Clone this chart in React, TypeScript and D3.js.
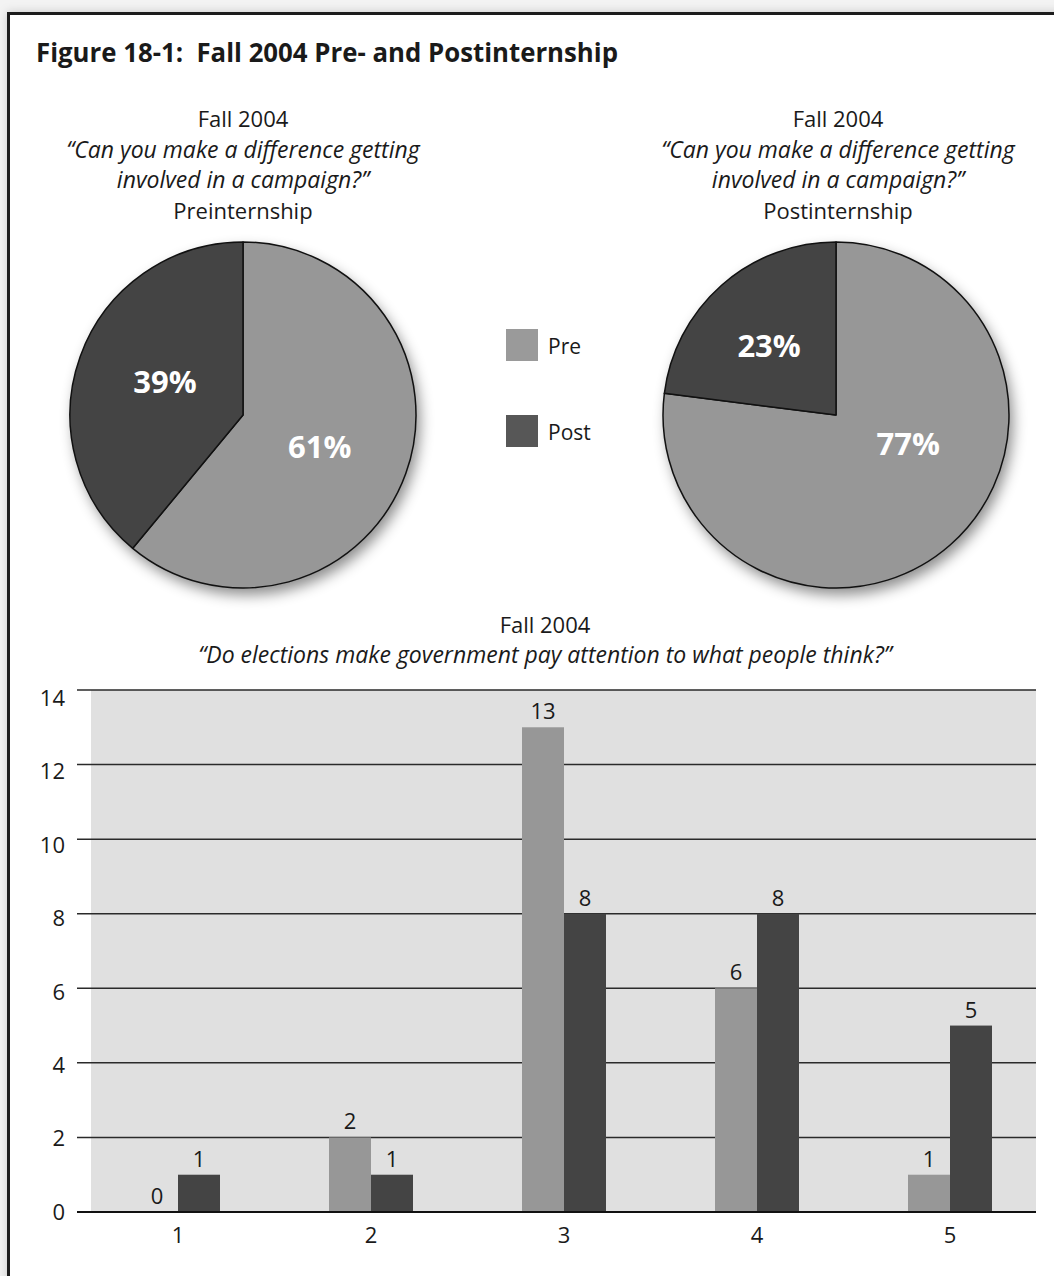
import React from "react";
import * as d3 from "d3";

// ---------- data ----------
const figureTitle = "Figure 18-1:  Fall 2004 Pre- and Postinternship";
const seriesNames = ["Pre", "Post"];
const pieQuestion = ["Fall 2004", "\u201CCan you make a difference getting", "involved in a campaign?\u201D"];
const pieSubtitles = ["Preinternship", "Postinternship"];
const preInternship = [61, 39]; // Pre, Post
const postInternship = [77, 23]; // Pre, Post

const barTitle = ["Fall 2004", "\u201CDo elections make government pay attention to what people think?\u201D"];
const categories = ["1", "2", "3", "4", "5"];
const preValues = [0, 2, 13, 6, 1];
const postValues = [1, 1, 8, 8, 5];
const yTicks = [0, 2, 4, 6, 8, 10, 12, 14];

// ---------- layout / style ----------
const W = 1054;
const H = 1276;
const FONT = "'Open Sans', 'Noto Sans', sans-serif";
const COLORS: Record<string, string> = { Pre: "#979797", Post: "#444444" };
const LEGEND_COLORS: Record<string, string> = { Pre: "#9a9a9a", Post: "#575757" };
const PIE_R = 173;
const pies = [
  { cx: 243, cy: 415, values: preInternship, subtitle: pieSubtitles[0], titleX: 243,
    labels: [ { a: 112.6, f: 0.48 }, { a: 293, f: 0.49 } ] },
  { cx: 836, cy: 415, values: postInternship, subtitle: pieSubtitles[1], titleX: 838,
    labels: [ { a: 111.9, f: 0.45 }, { a: 315.8, f: 0.555 } ] },
];
const plot = { left: 91, right: 1036, top: 690, bottom: 1212, gridStart: 77 };

export default function App() {
  const pieGen = d3.pie<number>().sort(null).startAngle(0).endAngle(2 * Math.PI);
  const arcGen = d3.arc<d3.PieArcDatum<number>>().innerRadius(0).outerRadius(PIE_R);

  const x = d3.scaleBand<string>().domain(categories).range([81.5, 1046.5]).padding(0);
  const xs = d3.scaleBand<string>().domain(seriesNames).range([-42, 42]).padding(0);
  const y = d3.scaleLinear().domain([0, 14]).range([plot.bottom, plot.top]);
  const yLab = d3.scaleLinear().domain([0, 14]).range([plot.bottom, 698]);

  const series = [
    { name: "Pre", values: preValues },
    { name: "Post", values: postValues },
  ];

  return (
    <svg
      width={W}
      height={H}
      viewBox={`0 0 ${W} ${H}`}
      style={{ position: "absolute", left: 0, top: 0, background: "#ffffff" }}
      fontFamily={FONT}
    >
      <defs>
        <filter id="frameShadow" x="-5%" y="-5%" width="110%" height="110%">
          <feDropShadow dx="0" dy="0" stdDeviation="5" floodColor="#000" floodOpacity="0.18" />
        </filter>
        <filter id="pieShadow" x="-20%" y="-20%" width="140%" height="140%">
          <feDropShadow dx="4" dy="7" stdDeviation="7" floodColor="#000" floodOpacity="0.45" />
        </filter>
      </defs>

      {/* frame */}
      <rect x={0} y={0} width={W} height={H} fill="#f3f3f3" />
      <rect x={8.5} y={13.5} width={W + 20} height={H + 20} fill="#ffffff" stroke="#1a1a1a" strokeWidth={3} filter="url(#frameShadow)" />

      {/* figure title */}
      <text x={36} y={62} fontSize={27.5} fontWeight={700} fill="#1a1a1a" textLength={582} lengthAdjust="spacingAndGlyphs" style={{ whiteSpace: "pre" }}>
        {figureTitle}
      </text>

      {/* pies */}
      {pies.map((p, pi) => {
        const arcs = pieGen(p.values);
        return (
          <g key={pi}>
            <g fontSize={22} fill="#1a1a1a" textAnchor="middle">
              <text x={p.titleX} y={127}>{pieQuestion[0]}</text>
              <text x={p.titleX} y={158} fontStyle="italic" fontSize={23}>{pieQuestion[1]}</text>
              <text x={p.titleX} y={188} fontStyle="italic" fontSize={23}>{pieQuestion[2]}</text>
              <text x={p.titleX} y={219}>{p.subtitle}</text>
            </g>
            <g transform={`translate(${p.cx},${p.cy})`}>
              <circle r={PIE_R} fill="#979797" filter="url(#pieShadow)" />
              {arcs.map((a, i) => (
                <path key={i} d={arcGen(a) || ""} fill={COLORS[seriesNames[i]]} stroke="#111" strokeWidth={1.5} strokeLinejoin="round" />
              ))}
              {arcs.map((a, i) => {
                const lp = p.labels[i];
                const ang = (lp.a * Math.PI) / 180;
                const rr = lp.f * PIE_R;
                return (
                  <text
                    key={"l" + i}
                    x={Math.sin(ang) * rr}
                    y={-Math.cos(ang) * rr}
                    dy="0.36em"
                    textAnchor="middle"
                    fontSize={31}
                    fontWeight={700}
                    fill="#ffffff"
                  >
                    {`${a.data}%`}
                  </text>
                );
              })}
            </g>
          </g>
        );
      })}

      {/* legend */}
      {seriesNames.map((s, i) => (
        <g key={s} transform={`translate(506,${329 + i * 86})`}>
          <rect width={32} height={32} fill={LEGEND_COLORS[s]} />
          <text x={42} y={25} fontSize={21} fill="#1a1a1a">{s}</text>
        </g>
      ))}

      {/* bar chart title */}
      <g fontSize={22} fill="#1a1a1a" textAnchor="middle">
        <text x={545} y={633}>{barTitle[0]}</text>
        <text x={545} y={663} fontStyle="italic" fontSize={23}>{barTitle[1]}</text>
      </g>

      {/* plot background */}
      <rect x={plot.left} y={plot.top} width={plot.right - plot.left} height={plot.bottom - plot.top} fill="#e0e0e0" />

      {/* gridlines & y labels */}
      {yTicks.map((t) => (
        <g key={t}>
          <line
            x1={plot.gridStart}
            x2={plot.right}
            y1={y(t)}
            y2={y(t)}
            stroke={t === 0 ? "#111" : "#2a2a2a"}
            strokeWidth={t === 0 ? 2.2 : 1.5}
          />
          <text x={65} y={yLab(t)} dy="0.36em" textAnchor="end" fontSize={22} fill="#1a1a1a">
            {t}
          </text>
        </g>
      ))}

      {/* bars */}
      {series.map((s) =>
        s.values.map((v, i) => {
          const cx = (x(categories[i]) || 0) + x.bandwidth() / 2;
          const bx = cx + (xs(s.name) || 0);
          return (
            <g key={s.name + i}>
              {v > 0 && (
                <rect x={bx} y={y(v)} width={xs.bandwidth()} height={y(0) - y(v)} fill={COLORS[s.name]} />
              )}
              <text x={bx + xs.bandwidth() / 2} y={y(v) - 8} textAnchor="middle" fontSize={22} fill="#1a1a1a">
                {v}
              </text>
            </g>
          );
        })
      )}
      <line x1={plot.gridStart} x2={plot.right} y1={y(0)} y2={y(0)} stroke="#111" strokeWidth={2.2} />

      {/* category labels */}
      {categories.map((c) => (
        <text key={c} x={(x(c) || 0) + x.bandwidth() / 2} y={1243} textAnchor="middle" fontSize={22} fill="#1a1a1a">
          {c}
        </text>
      ))}
    </svg>
  );
}
